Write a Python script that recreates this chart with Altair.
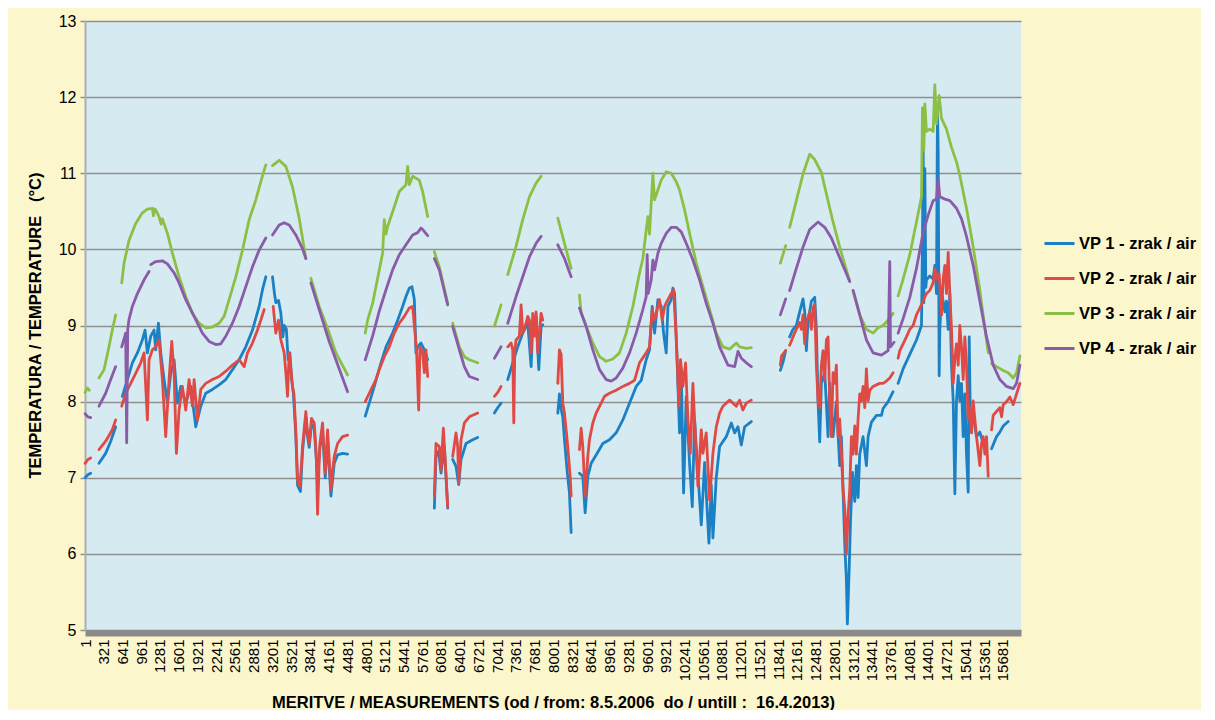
import altair as alt
import pandas as pd

# ---------------- data (measurement index, temperature °C); None = gap ----------------
series_names = ["VP 1 - zrak / air", "VP 2 - zrak / air", "VP 3 - zrak / air", "VP 4 - zrak / air"]
series_colors = ["#1c80c4", "#e04a45", "#8cbf45", "#8a5ba8"]

vp1_x = [1, 50, 97, None,
         239, 353, 439, 524, None,
         638, 724, 809, 895, 980, 1026, 1066, 1123, 1180, 1208, 1254, 1294, 1351, 1408, 1465, 1522, 1579, 1636,
         1721, 1807, 1892, 1978, 2063, 2177, 2291, 2405, 2519, 2633, 2747, 2861, 2975, 3032, 3089, None,
         3203, 3240, 3260, 3306, 3346, 3380, 3403, 3440, 3470, 3500, 3530, 3560, 3602, 3631, 3680, 3716, 3773,
         3800, 3830, 3870, 3916, 3973, 4013, 4058, 4104, 4144, 4201, 4258, 4315, 4400, 4486, None,
         4788, 4856, 4942, 5056, 5142, 5255, 5341, 5426, 5483, 5540, 5586, 5626, 5654, 5683, 5740, 5797, 5854, None,
         5968, 5996, 6040, 6082, 6139, 6196, None,
         6281, 6338, 6384, 6424, 6509, 6623, 6709, None,
         6994, 7050, 7108, None,
         7222, 7307, 7393, 7478, 7564, 7621, 7649, 7706, 7752, 7792, 7820, None,
         8077, 8105, 8134, 8162, 8191, 8240, 8276, 8305, None,
         8447, 8504, 8544, 8590, 8647, 8732, 8846, 8960, 9074, 9188, 9302, 9416, 9502, 9587, 9644, 9690, 9730,
         9787, 9844, 9884, 9929, 9958, 10015, 10043, 10072, 10100, 10157, 10186, 10226, 10271, 10328, 10374,
         10414, 10442, 10528, 10585, 10659, 10699, 10727, 10784, 10841, 10955, 11041, 11098, 11155, 11212, 11269,
         11355, 11383, None,
         11879, 11925, 11970, None,
         12038, 12095, 12152, 12209, 12266, 12295, 12323, 12352, 12409, 12466, 12494, 12523, 12551, 12580, 12637,
         12694, 12722, 12779, 12836, 12893, 12922, 12950, 12979, 13007, 13024, 13053, 13076, 13110, 13150, 13178,
         13207, 13235, 13292, 13349, 13378, 13435, 13520, 13606, 13634, 13720, 13805, None,
         13891, 13976, 14090, 14204, 14290, 14307, 14318, 14330, 14347, 14364, 14375, 14432, 14489, 14518, 14546,
         14563, 14575, 14592, 14603, 14632, 14660, 14689, 14717, 14746, 14774, 14803, 14832, 14860, 14888, 14917,
         14945, 14974, 15002, 15031, 15059, 15088, 15105, 15127, 15173, 15230, 15287, 15344, 15401, None,
         15487, 15572, 15629, 15686, 15772]
vp1_y = [7.00, 7.04, 7.06, None,
         7.19, 7.32, 7.48, 7.67, None,
         8.07, 8.29, 8.51, 8.64, 8.81, 8.94, 8.64, 8.86, 8.94, 8.68, 9.03, 8.64, 8.29, 7.98, 8.37, 8.55, 7.98, 8.20,
         7.98, 8.20, 7.67, 7.94, 8.11, 8.16, 8.22, 8.29, 8.42, 8.55, 8.72, 8.94, 9.25, 9.47, 9.64, None,
         9.64, 9.40, 9.30, 9.33, 9.16, 8.85, 9.00, 8.95, 8.55, 8.64, 8.30, 8.10, 7.55, 6.90, 6.82, 7.35, 7.80,
         7.55, 7.40, 7.70, 7.65, 7.00, 7.40, 7.60, 7.00, 7.50, 6.76, 7.19, 7.30, 7.32, 7.31, None,
         7.81, 7.98, 8.20, 8.51, 8.72, 8.90, 9.07, 9.25, 9.38, 9.49, 9.51, 9.34, 8.64, 8.72, 8.77, 8.68, 8.55, None,
         6.60, 7.28, 7.35, 7.06, 7.41, 6.60, None,
         7.24, 7.15, 6.91, 7.24, 7.45, 7.50, 7.53, None,
         7.85, 7.92, 7.98, None,
         8.29, 8.51, 8.72, 8.90, 9.03, 8.46, 8.99, 9.12, 8.42, 8.99, 9.01, None,
         7.85, 8.10, 7.90, 7.80, 7.50, 7.06, 6.80, 6.28, None,
         7.06, 7.02, 6.54, 7.02, 7.19, 7.30, 7.45, 7.50, 7.59, 7.76, 7.98, 8.20, 8.28, 8.55, 8.68, 9.25, 8.90,
         9.34, 9.25, 8.90, 8.64, 9.25, 9.34, 9.49, 9.42, 8.86, 7.59, 8.42, 6.80, 8.07, 7.19, 6.62,
         7.76, 7.40, 6.38, 7.20, 6.14, 6.90, 6.21, 7.00, 7.41, 7.54, 7.72, 7.59, 7.67, 7.43, 7.67,
         7.72, 7.74, None,
         8.41, 8.52, 8.67, None,
         8.85, 8.95, 9.00, 9.18, 9.35, 9.18, 8.67, 9.05, 9.32, 9.37, 8.95, 8.00, 7.47, 8.24, 8.38,
         7.54, 8.24, 7.54, 8.00, 7.16, 7.54, 6.84, 6.13, 5.66, 5.08, 5.76, 6.40, 7.07, 6.69, 7.16,
         6.74, 7.31, 7.54, 7.16, 7.54, 7.73, 7.82, 7.82, 7.91, 8.00, 8.13, None,
         8.24, 8.43, 8.62, 8.81, 9.00, 10.12, 11.39, 9.30, 11.06, 9.50, 9.60, 9.65, 9.61, 9.79, 9.42,
         11.85, 11.30, 8.34, 8.95, 9.42, 9.32, 9.18, 9.32, 8.95, 9.42, 8.48, 8.01, 6.79, 8.01, 8.34,
         8.01, 8.24, 7.54, 8.10, 7.31, 6.81, 8.85, 7.65, 7.82, 7.54, 7.60, 7.45, 7.40, None,
         7.38, 7.54, 7.60, 7.68, 7.74]

vp2_x = [1, 50, 97, None,
         239, 353, 467, 524, None,
         627, 695, 781, 866, 952, 1009, 1066, 1094, 1151, 1208, 1265, 1322, 1379, 1436, 1482, 1522, 1562, 1607,
         1664, 1721, 1778, 1835, 1864, 1921, 1978, 2063, 2177, 2291, 2405, 2519, 2633, 2719, 2776, 2861, 2947,
         3004, 3061, None,
         3215, 3260, 3306, 3346, 3403, 3440, 3460, 3488, 3520, 3545, 3570, 3602, 3631, 3671, 3700, 3716, 3773,
         3800, 3830, 3870, 3916, 3950, 3973, 4000, 4013, 4058, 4104, 4144, 4201, 4230, 4258, 4315, 4400, 4486, None,
         4788, 4856, 4970, 5027, 5113, 5198, 5284, 5369, 5455, 5540, 5597, 5643, 5666, 5700, 5723, 5768, 5797,
         5825, 5854, None,
         5968, 5996, 6053, 6082, 6122, 6156, 6196, None,
         6281, 6338, 6367, 6384, 6424, 6481, 6566, 6709, None,
         6994, 7050, 7108, None,
         7222, 7279, 7307, 7325, 7342, 7364, 7421, 7450, 7478, 7535, 7564, 7592, 7621, 7649, 7678, 7706, 7735,
         7763, 7792, 7820, None,
         8077, 8105, 8134, 8162, 8191, 8231, 8265, 8290, 8305, None,
         8447, 8476, 8504, 8544, 8590, 8618, 8675, 8732, 8818, 8875, 8960, 9074, 9188, 9302, 9388, 9473, 9587,
         9644, 9690, 9730, 9758, 9815, 9861, 9901, 9958, 10015, 10055, 10089, 10112, 10146, 10174, 10214, 10260,
         10300, 10340, 10385, 10414, 10471, 10528, 10556, 10613, 10670, 10727, 10784, 10841, 10898, 10955, 11012,
         11069, 11126, 11183, 11240, 11297, 11383, None,
         11879, 11900, 11970, None,
         12038, 12095, 12152, 12209, 12238, 12266, 12295, 12323, 12380, 12409, 12437, 12466, 12494, 12523, 12551,
         12580, 12608, 12637, 12665, 12694, 12722, 12751, 12779, 12808, 12836, 12865, 12893, 12922, 12950, 12979,
         13007, 13036, 13064, 13093, 13121, 13150, 13178, 13207, 13235, 13264, 13292, 13321, 13349, 13378, 13406,
         13463, 13520, 13577, 13634, 13691, 13748, 13805, None,
         13891, 13919, 13976, 14033, 14090, 14147, 14204, 14261, 14318, 14375, 14432, 14489, 14518, 14546, 14592,
         14632, 14660, 14689, 14717, 14746, 14774, 14803, 14832, 14860, 14888, 14917, 14945, 14974, 15002, 15031,
         15059, 15088, 15116, 15145, 15173, 15202, 15230, 15287, 15316, 15344, 15373, 15401, 15430, None,
         15487, 15515, 15572, 15629, 15658, 15686, 15743, 15800, 15857, 15914, 15971]
vp2_y = [7.19, 7.24, 7.26, None,
         7.37, 7.48, 7.63, 7.76, None,
         7.94, 8.11, 8.24, 8.37, 8.51, 8.64, 7.76, 8.55, 8.68, 8.72, 8.81, 8.29, 7.54, 8.29, 8.79, 8.37, 7.32, 7.89,
         8.20, 7.89, 8.29, 7.94, 8.29, 7.76, 8.16, 8.24, 8.29, 8.33, 8.40, 8.48, 8.55, 8.46, 8.64, 8.77, 8.94,
         9.07, 9.21, None,
         9.25, 8.90, 9.07, 8.81, 8.64, 8.30, 8.07, 8.64, 8.40, 8.20, 8.10, 7.60, 6.97, 6.89, 7.20, 7.41, 7.87,
         7.60, 7.45, 7.78, 7.72, 7.30, 6.52, 7.20, 7.45, 7.72, 7.06, 7.63, 6.84, 7.10, 7.28, 7.45, 7.54, 7.56, None,
         8.00, 8.11, 8.29, 8.42, 8.59, 8.72, 8.90, 9.03, 9.12, 9.23, 9.25, 8.86, 8.64, 7.89, 8.72, 8.64, 8.38,
         8.68, 8.33, None,
         6.76, 7.45, 7.41, 7.10, 7.65, 7.20, 6.62, None,
         7.28, 7.59, 7.41, 6.93, 7.50, 7.72, 7.80, 7.85, None,
         8.07, 8.12, 8.20, None,
         8.72, 8.77, 8.68, 7.72, 8.68, 8.81, 8.86, 9.27, 8.90, 9.03, 9.12, 9.07, 8.64, 9.16, 8.86, 9.18, 8.64,
         8.90, 9.16, 9.07, None,
         8.24, 8.68, 8.62, 7.98, 7.85, 7.54, 7.24, 7.00, 6.76, None,
         7.37, 7.65, 7.41, 6.76, 7.28, 7.50, 7.72, 7.85, 7.98, 8.07, 8.11, 8.15, 8.20, 8.24, 8.28, 8.51, 8.64,
         8.72, 9.21, 9.07, 9.16, 9.34, 9.07, 9.25, 9.34, 9.42, 9.47, 8.99, 8.64, 7.94, 8.55, 8.20, 8.51,
         7.76, 7.32, 8.24, 7.76, 6.89, 7.63, 7.32, 7.59, 6.71, 7.32, 7.67, 7.85, 7.94, 7.98, 8.02,
         7.98, 7.94, 8.02, 7.89, 7.98, 8.02, None,
         8.48, 8.60, 8.67, None,
         8.74, 8.85, 8.95, 9.04, 8.95, 9.14, 8.76, 9.04, 9.18, 8.95, 9.23, 9.28, 8.48, 8.01, 7.92,
         8.48, 8.67, 8.29, 8.81, 8.85, 8.01, 7.54, 8.38, 8.24, 8.48, 7.54, 7.77, 7.31, 6.84, 6.60,
         6.00, 6.51, 6.84, 7.54, 7.31, 7.68, 7.31, 7.77, 8.10, 8.01, 8.20, 7.92, 8.43, 8.01, 8.15,
         8.20, 8.22, 8.24, 8.24, 8.27, 8.31, 8.38, None,
         8.57, 8.67, 8.76, 8.85, 8.95, 9.00, 9.14, 9.23, 9.32, 9.42, 9.46, 9.56, 9.75, 9.61, 9.68,
         9.14, 9.61, 9.79, 9.42, 9.96, 9.42, 8.95, 8.24, 8.57, 8.76, 8.48, 9.00, 8.71, 8.29, 8.85,
         8.48, 7.77, 7.92, 7.59, 8.01, 7.77, 7.54, 7.16, 7.45, 7.54, 7.31, 7.54, 7.02, None,
         7.63, 7.82, 7.87, 7.92, 7.80, 7.96, 8.00, 8.06, 7.96, 8.10, 8.24]

vp3_x = [1, 40, 75, None,
         239, 325, 410, 467, 524, None,
         627, 667, 752, 866, 980, 1066, 1151, 1170, 1190, 1208, 1265, 1300, 1322, 1408, 1493, 1607, 1721, 1835,
         1949, 2063, 2177, 2291, 2377, 2462, 2576, 2690, 2804, 2918, 3004, 3061, 3089, None,
         3203, 3317, 3431, 3545, 3659, 3773, None,
         3859, 4001, 4172, 4286, 4486, None,
         4788, 4828, 4913, 5027, 5084, 5113, 5142, 5170, 5284, 5369, 5483, 5512, 5540, 5597, 5711, 5768, 5854, None,
         5968, 6053, 6196, None,
         6281, 6395, 6481, 6566, 6709, None,
         6994, 7108, None,
         7222, 7364, 7478, 7592, 7706, 7792, None,
         8077, 8191, 8305, None,
         8447, 8476, 8561, 8675, 8789, 8903, 9017, 9131, 9245, 9359, 9473, 9530, 9587, 9616, 9644, 9701, 9730,
         9787, 9844, 9929, 10015, 10100, 10157, 10243, 10328, 10442, 10556, 10670, 10784, 10898, 11012, 11126,
         11183, 11297, 11383, None,
         11879, 11970, None,
         12038, 12152, 12266, 12380, 12466, 12580, 12665, 12779, 12893, 13064, None,
         13121, 13235, 13349, 13463, 13549, 13634, 13720, 13805, None,
         13891, 13976, 14090, 14204, 14290, 14307, 14330, 14347, 14375, 14432, 14489, 14518, 14546, 14592, 14632,
         14717, 14803, 14888, 14945, 15059, 15173, 15287, 15430, None,
         15487, 15572, 15686, 15772, 15857, 15914, 15971]
vp3_y = [8.12, 8.18, 8.15, None,
         8.31, 8.42, 8.72, 8.94, 9.14, None,
         9.56, 9.82, 10.12, 10.34, 10.48, 10.53, 10.54, 10.44, 10.53, 10.52, 10.43, 10.33, 10.40, 10.21, 9.95,
         9.64, 9.38, 9.16, 9.03, 8.97, 8.98, 9.03, 9.12, 9.34, 9.64, 9.99, 10.39, 10.65, 10.89, 11.04, 11.11, None,
         11.10, 11.17, 11.09, 10.82, 10.41, 9.88, None,
         9.62, 9.25, 8.90, 8.64, 8.35, None,
         8.90, 9.07, 9.29, 9.73, 9.95, 10.39, 10.20, 10.30, 10.56, 10.76, 10.85, 11.09, 10.85, 10.96, 10.91,
         10.76, 10.43, None,
         9.97, 9.77, 9.29, None,
         9.03, 8.72, 8.59, 8.55, 8.51, None,
         8.99, 9.27, None,
         9.67, 10.04, 10.39, 10.69, 10.87, 10.96, None,
         10.41, 10.08, 9.75, None,
         9.40, 9.16, 8.99, 8.77, 8.59, 8.53, 8.56, 8.64, 8.90, 9.25, 9.69, 9.88, 10.25, 10.43, 10.20, 11.00,
         10.65, 10.78, 10.91, 11.02, 11.00, 10.89, 10.78, 10.52, 10.21, 9.82, 9.51, 9.21, 8.90, 8.72, 8.69,
         8.77, 8.72, 8.70, 8.71, None,
         9.82, 10.05, None,
         10.29, 10.64, 10.99, 11.25, 11.18, 11.01, 10.73, 10.36, 10.03, 9.58, None,
         9.46, 9.14, 8.95, 8.90, 8.97, 9.00, 9.07, 9.16, None,
         9.39, 9.61, 9.93, 10.36, 10.69, 11.86, 11.30, 11.91, 11.55, 11.58, 11.55, 12.16, 11.65, 12.02, 11.72,
         11.58, 11.34, 11.15, 10.97, 10.54, 10.03, 9.46, 8.64, None,
         8.50, 8.46, 8.41, 8.38, 8.31, 8.38, 8.60]

vp4_x = [1, 50, 97, None,
         239, 353, 439, 524, None,
         627, 695, 712, 730, 752, 809, 895, 1009, 1094, None,
         1123, 1208, 1322, 1408, 1522, 1607, 1721, 1864, 2006, 2120, 2234, 2320, 2405, 2519, 2633, 2747, 2861,
         2975, 3089, None,
         3203, 3317, 3403, 3488, 3602, 3716, 3773, None,
         3859, 4001, 4172, 4286, 4372, 4486, None,
         4788, 4913, 5027, 5142, 5255, 5369, 5483, 5597, 5683, 5740, 5780, 5854, None,
         5968, 6053, 6196, None,
         6281, 6395, 6481, 6566, 6709, None,
         6994, 7108, None,
         7222, 7364, 7478, 7592, 7706, 7792, None,
         8077, 8191, 8305, None,
         8447, 8561, 8675, 8789, 8903, 8989, 9074, 9188, 9302, 9416, 9530, 9587, 9604, 9621, 9673, 9701, 9730,
         9787, 9844, 9929, 10015, 10100, 10186, 10271, 10385, 10499, 10613, 10727, 10841, 10984, 11098, 11155,
         11212, 11297, 11383, None,
         11879, 11970, None,
         12038, 12152, 12266, 12380, 12523, 12637, 12751, 12893, 13064, None,
         13121, 13235, 13349, 13463, 13606, 13720, 13748, 13760, 13822, None,
         13891, 13976, 14090, 14204, 14318, 14404, 14489, 14546, 14575, 14603, 14689, 14774, 14888, 14974, 15059,
         15173, 15287, 15401, 15515, 15629, 15743, 15857, 15914, 15971]
vp4_y = [7.84, 7.80, 7.79, None,
         7.94, 8.11, 8.29, 8.46, None,
         8.72, 8.90, 7.46, 8.95, 9.08, 9.25, 9.42, 9.60, 9.71, None,
         9.80, 9.84, 9.85, 9.81, 9.69, 9.56, 9.34, 9.12, 8.90, 8.79, 8.75, 8.76, 8.86, 9.03, 9.25, 9.51, 9.77,
         9.99, 10.15, None,
         10.19, 10.32, 10.35, 10.32, 10.19, 10.01, 9.88, None,
         9.56, 9.21, 8.79, 8.55, 8.37, 8.13, None,
         8.55, 8.86, 9.19, 9.47, 9.73, 9.93, 10.06, 10.19, 10.22, 10.28, 10.25, 10.18, None,
         9.88, 9.73, 9.27, None,
         8.99, 8.68, 8.46, 8.33, 8.29, None,
         8.57, 8.72, None,
         9.03, 9.38, 9.64, 9.90, 10.08, 10.17, None,
         10.06, 9.88, 9.64, None,
         9.23, 8.99, 8.68, 8.42, 8.29, 8.27, 8.31, 8.44, 8.64, 8.90, 9.21, 9.38, 9.93, 9.42, 9.60, 9.86, 9.73,
         9.95, 10.08, 10.21, 10.29, 10.29, 10.23, 10.08, 9.86, 9.60, 9.29, 9.03, 8.72, 8.48, 8.46, 8.66,
         8.57, 8.51, 8.46, None,
         9.14, 9.35, None,
         9.46, 9.75, 10.03, 10.26, 10.36, 10.29, 10.15, 9.89, 9.58, None,
         9.46, 9.14, 8.81, 8.64, 8.61, 8.67, 9.84, 8.72, 8.78, None,
         8.90, 9.09, 9.37, 9.75, 10.22, 10.45, 10.64, 10.66, 10.92, 10.69, 10.66, 10.64, 10.54, 10.40, 10.17,
         9.79, 9.32, 8.85, 8.48, 8.29, 8.20, 8.17, 8.24, 8.48]

x_tick_values = list(range(1, 15682, 320))
y_tick_values = [5, 6, 7, 8, 9, 10, 11, 12, 13]

# ---------------- build long table (segments split at None) ----------------
rows = []
for name, xs, ys in zip(series_names, [vp1_x, vp2_x, vp3_x, vp4_x], [vp1_y, vp2_y, vp3_y, vp4_y]):
    seg = 0
    for xv, yv in zip(xs, ys):
        if xv is None or yv is None:
            seg += 1
            continue
        rows.append({"m": xv, "t": yv, "series": name, "seg": f"{name}#{seg}"})
df = pd.DataFrame(rows)

FONT = "Liberation Sans"

color = alt.Color(
    "series:N",
    scale=alt.Scale(domain=series_names, range=series_colors),
    title=None,
    legend=alt.Legend(
        orient="none", legendX=958, legendY=206, direction="vertical",
        symbolType="stroke", symbolSize=900, symbolStrokeWidth=3,
        labelFont=FONT, labelFontSize=16.5, labelFontWeight="bold", labelColor="#000000",
        labelOffset=3, rowPadding=10, padding=0, labelLimit=300,
    ),
)

x_enc = alt.X(
    "m:Q",
    scale=alt.Scale(domain=[0, 15990], nice=False, zero=False),
    axis=alt.Axis(
        values=x_tick_values, format="d", labelAngle=270, labelAlign="right", labelBaseline="middle",
        labelFont=FONT, labelFontSize=15, labelColor="#000000", labelOverlap=False, labelFlush=False,
        labelPadding=6, ticks=False, grid=False,
        domainColor="#8a8a8a", domainWidth=6, offset=3,
        title="MERITVE / MEASUREMENTS (od / from: 8.5.2006\u00a0 do / untill :\u00a0 16.4.2013)",
        titleFont=FONT, titleFontSize=16.5, titleFontWeight="bold", titleColor="#000000",
        titleX=468, titleY=69, titleAlign="center", titleBaseline="middle",
    ),
)
y_enc = alt.Y(
    "t:Q",
    scale=alt.Scale(domain=[5, 13], nice=False, zero=False),
    axis=alt.Axis(
        values=y_tick_values, grid=True, gridColor="#8e8e8e", gridWidth=1.5,
        labelFont=FONT, labelFontSize=16, labelColor="#000000", labelPadding=4,
        tickColor="#8e8e8e", tickSize=5, tickWidth=1.5,
        domainColor="#a7b0b6", domainWidth=2,
        title="TEMPERATURA / TEMPERATURE\u00a0\u00a0 (°C)",
        titleFont=FONT, titleFontSize=16.5, titleFontWeight="bold", titleColor="#000000",
        titleAngle=270, titleX=-50, titleY=304, titleAlign="center", titleBaseline="middle",
    ),
)

layers = []
for name in series_names:
    layers.append(
        alt.Chart(df)
        .transform_filter(alt.datum.series == name)
        .mark_line(strokeWidth=2.8, strokeJoin="round", strokeCap="round")
        .encode(x=x_enc, y=y_enc, color=color, detail="seg:N", order="m:Q")
    )

chart = (
    alt.layer(*layers)
    .properties(
        width=936, height=609,
        background="#fcf6cc",
        padding={"left": 77, "top": 13, "right": 180, "bottom": 80},
        autosize=alt.AutoSizeParams(type="none"),
    )
    .configure_view(fill="#d6ebf1", strokeWidth=0)
)

chart.save("out.html", embed_options={"renderer": "svg", "actions": False})
